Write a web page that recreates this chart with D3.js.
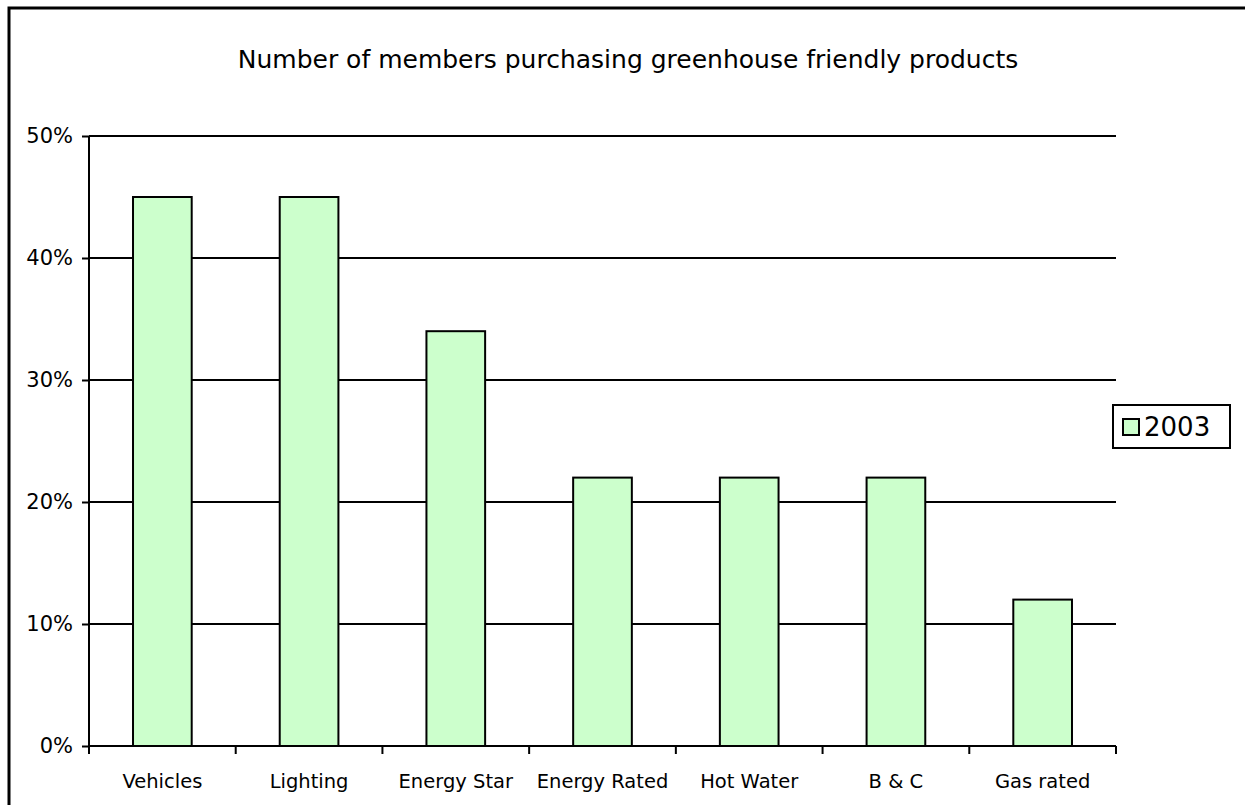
<!DOCTYPE html>
<html>
<head>
<meta charset="utf-8">
<script src="https://cdn.jsdelivr.net/npm/d3@7"></script>
<style>
  body { margin: 0; background: #fff; }
  svg { display: block; }
  text { font-family: "DejaVu Sans", "Liberation Sans", sans-serif; fill: #000; }
</style>
</head>
<body>
<svg id="chart" width="1245" height="805"></svg>
<script>
const categories = ["Vehicles", "Lighting", "Energy Star", "Energy Rated", "Hot Water", "B & C", "Gas rated"];
const values2003 = [0.45, 0.45, 0.34, 0.22, 0.22, 0.22, 0.12];
const yTicks = [0, 0.1, 0.2, 0.3, 0.4, 0.5];
const seriesName = "2003";
const title = "Number of members purchasing greenhouse friendly products";

const svg = d3.select("#chart");
const W = 1245, H = 805;
const plot = { left: 89, right: 1116, top: 136, bottom: 746 };

// outer frame (left and top visible)
svg.append("path")
  .attr("d", `M9,${H} L9,8 L${W},8`)
  .attr("fill", "none").attr("stroke", "#000").attr("stroke-width", 3);

const x = d3.scaleBand().domain(categories).range([plot.left, plot.right]).padding(0);
const y = d3.scaleLinear().domain([0, 0.5]).range([plot.bottom, plot.top]);

// gridlines
svg.append("g").selectAll("line").data(yTicks.filter(d => d > 0)).join("line")
  .attr("x1", plot.left).attr("x2", plot.right)
  .attr("y1", d => y(d)).attr("y2", d => y(d))
  .attr("stroke", "#000").attr("stroke-width", 2);

// bars
const barW = x.bandwidth() * 0.4;
svg.append("g").selectAll("rect").data(values2003).join("rect")
  .attr("x", (d, i) => x(categories[i]) + (x.bandwidth() - barW) / 2)
  .attr("y", d => y(d))
  .attr("width", barW)
  .attr("height", d => y(0) - y(d))
  .attr("fill", "#CCFFCC")
  .attr("stroke", "#000").attr("stroke-width", 2);

// y axis
const yAxis = d3.axisLeft(y).tickValues(yTicks).tickFormat(d3.format(".0%")).tickSize(7).tickPadding(9);
const gy = svg.append("g").attr("transform", `translate(${plot.left},0)`).call(yAxis);
gy.select(".domain").attr("stroke-width", 2).attr("d", `M-0,${plot.top}V${plot.bottom}`);
gy.selectAll(".tick line").attr("stroke-width", 2);
gy.selectAll(".tick text").style("font-size", "21px").attr("font-family", null);

// x axis: ticks at category boundaries
const gx = svg.append("g").attr("transform", `translate(0,${plot.bottom})`);
gx.append("line").attr("x1", plot.left).attr("x2", plot.right).attr("y1", 0).attr("y2", 0)
  .attr("stroke", "#000").attr("stroke-width", 2);
const bounds = categories.map(c => x(c)).concat([plot.right]);
gx.selectAll("line.tk").data(bounds).join("line").attr("class", "tk")
  .attr("x1", d => d).attr("x2", d => d).attr("y1", 0).attr("y2", 8)
  .attr("stroke", "#000").attr("stroke-width", 2);
gx.selectAll("text").data(categories).join("text")
  .attr("x", d => x(d) + x.bandwidth() / 2)
  .attr("y", 42)
  .attr("text-anchor", "middle")
  .style("font-size", "19.5px")
  .text(d => d);

// title
svg.append("text").attr("x", 628).attr("y", 68).attr("text-anchor", "middle")
  .style("font-size", "25px").text(title);

// legend
const lg = svg.append("g").attr("transform", "translate(1113,405)");
lg.append("rect").attr("width", 117).attr("height", 43).attr("fill", "#fff")
  .attr("stroke", "#000").attr("stroke-width", 2);
lg.append("rect").attr("x", 10).attr("y", 14).attr("width", 16).attr("height", 16)
  .attr("fill", "#CCFFCC").attr("stroke", "#000").attr("stroke-width", 2);
lg.append("text").attr("x", 31).attr("y", 31).style("font-size", "26px").text(seriesName);
</script>
</body>
</html>
